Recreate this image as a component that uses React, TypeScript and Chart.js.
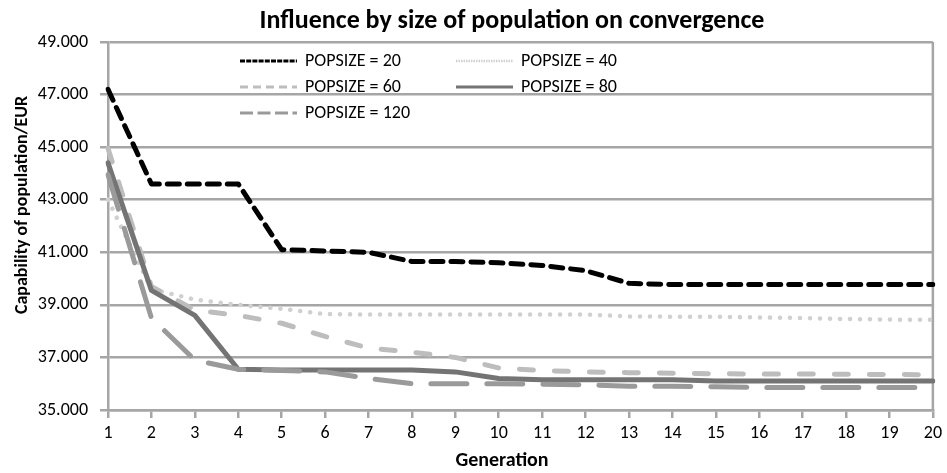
import React, { useEffect, useRef } from "react";
import { Chart, registerables } from "chart.js";

Chart.register(...registerables);

const generations = ["1","2","3","4","5","6","7","8","9","10","11","12","13","14","15","16","17","18","19","20"];
const seriesLabels = ["POPSIZE = 20", "POPSIZE = 40", "POPSIZE = 60", "POPSIZE = 80", "POPSIZE = 120"];
const pop20 = [47.2, 43.6, 43.6, 43.6, 41.1, 41.05, 41.0, 40.65, 40.65, 40.6, 40.5, 40.3, 39.82, 39.77, 39.77, 39.77, 39.77, 39.77, 39.77, 39.77];
const pop40 = [43.0, 39.6, 39.2, 39.0, 38.85, 38.65, 38.63, 38.63, 38.63, 38.63, 38.63, 38.63, 38.56, 38.55, 38.55, 38.52, 38.5, 38.46, 38.44, 38.43];
const pop60 = [44.95, 39.7, 38.8, 38.6, 38.3, 37.8, 37.36, 37.2, 37.0, 36.6, 36.5, 36.45, 36.42, 36.4, 36.38, 36.37, 36.37, 36.36, 36.35, 36.34];
const pop80 = [44.4, 39.55, 38.6, 36.55, 36.52, 36.52, 36.52, 36.52, 36.45, 36.2, 36.15, 36.15, 36.15, 36.15, 36.1, 36.1, 36.1, 36.1, 36.1, 36.1];
const pop120 = [43.95, 38.5, 36.9, 36.55, 36.5, 36.45, 36.2, 36.0, 36.0, 36.0, 35.98, 35.96, 35.9, 35.9, 35.88, 35.86, 35.86, 35.86, 35.86, 35.86];
const yMin = 35;
const yMax = 49;
const yStep = 2;
const chartTitle = "Influence by size of population on convergence";
const xTitle = "Generation";
const yTitle = "Capability of population/EUR";

const FONT = "Carlito, Calibri, Lato, 'Noto Sans', sans-serif";

const styles = [
  { color: "#000000", width: 5, dash: [12, 8], cap: "round", lDash: [5, 1.2], lWidth: 3 },
  { color: "#d0d0d0", width: 4.5, dash: [0.1, 9.9], cap: "round", lDash: [1.5, 1], lWidth: 2.5 },
  { color: "#bdbdbd", width: 5, dash: [14, 21], cap: "round", lDash: [8, 5], lWidth: 3 },
  { color: "#747474", width: 5, dash: [], cap: "round", lDash: [], lWidth: 3 },
  { color: "#9a9a9a", width: 5, dash: [36, 20], cap: "round", lDash: [13, 4.5], lWidth: 3 },
];

const legendPos = [
  { x: 240, y: 61 },
  { x: 456, y: 61 },
  { x: 240, y: 87 },
  { x: 456, y: 87 },
  { x: 240, y: 113 },
];

const framePlugin = {
  id: "frame",
  beforeDatasetsDraw(chart: any) {
    const { ctx, chartArea } = chart;
    ctx.save();
    ctx.strokeStyle = "#a6a6a6";
    ctx.lineWidth = 2.5;
    ctx.beginPath();
    ctx.moveTo(chartArea.right, chartArea.top);
    ctx.lineTo(chartArea.right, chartArea.bottom);
    ctx.stroke();
    ctx.restore();
  },
  afterDraw(chart: any) {
    const { ctx } = chart;
    ctx.save();
    ctx.fillStyle = "#000";
    ctx.textAlign = "center";
    ctx.textBaseline = "middle";
    ctx.font = `bold 26px ${FONT}`;
    ctx.fillText(chartTitle, 512, 21);
    ctx.font = `bold 20px ${FONT}`;
    ctx.fillText(xTitle, 502, 461);
    ctx.save();
    ctx.translate(22, 205);
    ctx.rotate(-Math.PI / 2);
    ctx.font = `bold 18px ${FONT}`;
    ctx.fillText(yTitle, 0, 0);
    ctx.restore();
    chart.data.datasets.forEach((ds: any, i: number) => {
      const s = styles[i];
      const p = legendPos[i];
      ctx.beginPath();
      ctx.setLineDash(s.lDash);
      ctx.lineCap = "butt";
      ctx.lineWidth = s.lWidth;
      ctx.strokeStyle = s.color;
      ctx.moveTo(p.x, p.y);
      ctx.lineTo(p.x + 57, p.y);
      ctx.stroke();
      ctx.setLineDash([]);
      ctx.fillStyle = "#000";
      ctx.font = `18px ${FONT}`;
      ctx.textBaseline = "middle";
      ctx.textAlign = "left";
      ctx.fillText(ds.label, p.x + 65, p.y);
    });
    ctx.restore();
  },
};

export default function App() {
  const ref = useRef<HTMLCanvasElement | null>(null);
  useEffect(() => {
    if (!ref.current) return;
    const all = [pop20, pop40, pop60, pop80, pop120];
    const chart = new Chart(ref.current, {
      type: "line",
      data: {
        labels: generations,
        datasets: all.map((d, i) => ({
          label: seriesLabels[i],
          data: d,
          borderColor: styles[i].color,
          backgroundColor: styles[i].color,
          borderWidth: styles[i].width,
          borderDash: styles[i].dash,
          borderCapStyle: styles[i].cap as any,
          borderJoinStyle: "round" as any,
          pointRadius: 0,
          tension: 0,
          fill: false,
          order: all.length - i,
        })),
      },
      options: {
        animation: false,
        responsive: false,
        maintainAspectRatio: false,
        layout: { padding: { left: 0, right: 9, top: 42, bottom: 0 } },
        plugins: {
          legend: { display: false },
          tooltip: { enabled: false },
          title: { display: false },
        },
        scales: {
          x: {
            type: "category",
            offset: false,
            grid: { display: true, drawOnChartArea: false, color: "#a6a6a6", lineWidth: 2.5, tickLength: 8 },
            border: { display: true, color: "#a6a6a6", width: 2.5 },
            ticks: { color: "#000", font: { family: FONT, size: 18 }, padding: 5, maxRotation: 0, autoSkip: false },
            afterFit: (s: any) => { s.height = 63; },
          },
          y: {
            min: yMin,
            max: yMax,
            grid: { color: "#a6a6a6", lineWidth: 2.5, tickLength: 8 },
            border: { display: true, color: "#a6a6a6", width: 2.5 },
            ticks: {
              stepSize: yStep,
              color: "#000",
              font: { family: FONT, size: 18 },
              padding: 12,
              callback: (v: any) => Number(v).toFixed(3),
            },
            afterFit: (s: any) => { s.width = 108; },
          },
        },
      },
      plugins: [framePlugin],
    });
    return () => chart.destroy();
  }, []);
  return (
    <div style={{ position: "fixed", left: 0, top: 0, width: 947, height: 473, background: "#fff" }}>
      <canvas ref={ref} width={947} height={473} style={{ display: "block" }} />
    </div>
  );
}
